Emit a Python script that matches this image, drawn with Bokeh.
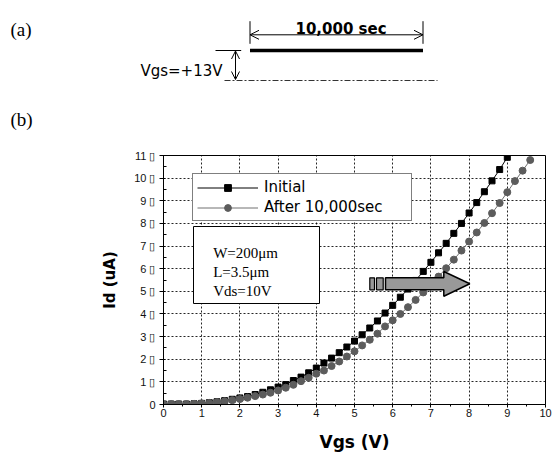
from bokeh.plotting import figure
from bokeh.models import (Range1d, Legend, LegendItem, Label, Arrow, OpenHead,
                          FixedTicker, BoxAnnotation)
from bokeh.layouts import column
from bokeh.embed import file_html
from bokeh.resources import INLINE

# ---------------- data ----------------
vgs_initial = [0.0, 0.2, 0.4, 0.6, 0.8, 1.0, 1.2, 1.4, 1.6, 1.8, 2.0, 2.2, 2.4, 2.6, 2.8,
               3.0, 3.2, 3.4, 3.6, 3.8, 4.0, 4.2, 4.4, 4.6, 4.8, 5.0, 5.2, 5.4, 5.6, 5.8,
               6.0, 6.2, 6.4, 6.6, 6.8, 7.0, 7.2, 7.4, 7.6, 7.8, 8.0, 8.2, 8.4, 8.6, 8.8, 9.0]
id_initial = [0.02, 0.02, 0.02, 0.02, 0.03, 0.05, 0.08, 0.12, 0.17, 0.23, 0.29, 0.35, 0.44,
              0.54, 0.65, 0.77, 0.88, 1.06, 1.21, 1.40, 1.61, 1.83, 2.05, 2.29, 2.54, 2.80,
              3.08, 3.38, 3.69, 4.04, 4.38, 4.74, 5.10, 5.48, 5.88, 6.28, 6.70, 7.12, 7.56,
              8.00, 8.46, 8.92, 9.40, 9.88, 10.38, 10.92]

vgs_after = [0.0, 0.2, 0.4, 0.6, 0.8, 1.0, 1.2, 1.4, 1.6, 1.8, 2.0, 2.2, 2.4, 2.6, 2.8,
             3.0, 3.2, 3.4, 3.6, 3.8, 4.0, 4.2, 4.4, 4.6, 4.8, 5.0, 5.2, 5.4, 5.6, 5.8,
             6.0, 6.2, 6.4, 6.6, 6.8, 7.0, 7.2, 7.4, 7.6, 7.8, 8.0, 8.2, 8.4, 8.6, 8.8,
             9.0, 9.2, 9.4, 9.6]
id_after = [0.02, 0.02, 0.02, 0.02, 0.03, 0.05, 0.07, 0.10, 0.14, 0.19, 0.24, 0.30, 0.37,
            0.44, 0.52, 0.62, 0.74, 0.87, 1.03, 1.18, 1.36, 1.50, 1.70, 1.90, 2.12, 2.35,
            2.61, 2.86, 3.13, 3.45, 3.72, 4.00, 4.30, 4.62, 4.95, 5.30, 5.65, 6.02, 6.40,
            6.80, 7.20, 7.60, 8.02, 8.45, 8.90, 9.38, 9.87, 10.33, 10.80]

x_ticks = [0, 1, 2, 3, 4, 5, 6, 7, 8, 9, 10]
y_ticks = [0, 1, 2, 3, 4, 5, 6, 7, 8, 9, 10, 11]
y_tick_labels = ["0", "1 \u25AF", "2 \u25AF", "3 \u25AF", "4 \u25AF", "5 \u25AF", "6 \u25AF",
                 "7 \u25AF", "8 \u25AF", "9 \u25AF", "10 \u25AF", "11 \u25AF"]
series_labels = ["Initial", "After 10,000sec"]
info_lines = ["W=200\u03bcm", "L=3.5\u03bcm", "Vds=10V"]

SANS = "Liberation Sans"
WIDE = "DejaVu Sans"
SERIF = "Liberation Serif"

# ---------------- (a) stress diagram (pixel-like coords) ----------------
top = figure(width=553, height=138, x_range=Range1d(0, 553), y_range=Range1d(138, 0),
             x_axis_type=None, y_axis_type=None, toolbar_location=None,
             output_backend="svg", min_border=0, min_border_left=0, min_border_right=0,
             min_border_top=0, min_border_bottom=0, frame_align=False)
top.grid.visible = False
top.outline_line_color = None

top.add_layout(Label(x=10, y=29, text="(a)", text_font=SERIF, text_font_size="19px",
                     text_baseline="alphabetic", text_color="black"))
top.add_layout(Label(x=10, y=119, text="(b)", text_font=SERIF, text_font_size="19px",
                     text_baseline="alphabetic", text_color="black"))
top.add_layout(Label(x=340.5, y=28.5, text="10,000 sec", text_font=WIDE,
                     text_font_size="15px", text_font_style="bold",
                     text_align="center", text_baseline="alphabetic", text_color="black"))
top.add_layout(Label(x=222, y=70.5, text="Vgs=+13V", text_font=WIDE, text_font_size="15px",
                     text_align="right", text_baseline="alphabetic", text_color="black"))

# dimension arrow for duration
top.add_layout(Arrow(start=OpenHead(size=9, line_width=1), end=OpenHead(size=9, line_width=1),
                     x_start=249.5, y_start=34.3, x_end=422.5, y_end=34.3, line_width=1,
                     line_color="black"))
top.segment(x0=[249.5, 422.5], y0=[20.7, 20.7], x1=[249.5, 422.5], y1=[43.3, 43.3],
            line_color="black", line_width=1)
# stress pulse
top.segment(x0=[249.5], y0=[50], x1=[422.5], y1=[50], line_color="black", line_width=3.5)
# amplitude marker
top.segment(x0=[215], y0=[50], x1=[240.7], y1=[50], line_color="black", line_width=1)
top.add_layout(Arrow(start=OpenHead(size=8, line_width=1), end=OpenHead(size=8, line_width=1),
                     x_start=235, y_start=50.5, x_end=235, y_end=79, line_width=1,
                     line_color="black"))
top.segment(x0=[224], y0=[80], x1=[437], y1=[80], line_color="#333333", line_width=1,
            line_dash="6 2 2 2")

# ---------------- (b) Id-Vgs chart ----------------
FX0, FX1, FY0, FY1 = 163.0, 545.0, 404.0, 155.0
p = figure(frame_width=382, frame_height=249, x_range=Range1d(0, 10), y_range=Range1d(0, 11),
           min_border_left=163, min_border_right=8, min_border_top=17,
           min_border_bottom=53, toolbar_location=None, output_backend="svg",
           frame_align=False)

def X(px):
    return (px - FX0) / (FX1 - FX0) * 10.0
def Y(py):
    return (FY0 - py) / (FY0 - FY1) * 11.0

p.outline_line_color = "black"
p.outline_line_width = 1
p.background_fill_color = "white"

p.xaxis.ticker = FixedTicker(ticks=x_ticks, minor_ticks=[t + 0.5 for t in x_ticks[:-1]])
p.yaxis.ticker = FixedTicker(ticks=y_ticks, minor_ticks=[t + 0.5 for t in y_ticks[:-1]])
p.yaxis.major_label_overrides = {t: lab for t, lab in zip(y_ticks, y_tick_labels)}

for ax in (p.xaxis[0], p.yaxis[0]):
    ax.axis_line_color = "black"
    ax.major_tick_line_color = "black"
    ax.minor_tick_line_color = "black"
    ax.major_label_text_font = SANS
    ax.major_label_text_font_size = "11px"
    ax.major_label_text_color = "#111111"
    ax.axis_label_text_font = WIDE
    ax.axis_label_text_font_style = "bold"
    ax.axis_label_text_color = "black"

p.xaxis.major_tick_out = 3
p.xaxis.major_tick_in = 0
p.xaxis.minor_tick_out = 2
p.xaxis.minor_tick_in = 0
p.xaxis.major_label_standoff = 1
p.xaxis.axis_label = "Vgs (V)"
p.xaxis.axis_label_text_font_size = "17px"
p.xaxis.axis_label_standoff = 12

p.yaxis.major_tick_out = 4
p.yaxis.major_tick_in = 2
p.yaxis.minor_tick_out = 0
p.yaxis.minor_tick_in = 3
p.yaxis.major_label_standoff = 4
p.yaxis.axis_label = "Id (uA)"
p.yaxis.axis_label_text_font_size = "15px"
p.yaxis.axis_label_standoff = 12

for g in (p.xgrid[0], p.ygrid[0]):
    g.grid_line_color = "black"
    g.grid_line_dash = "2 2"
    g.grid_line_width = 1
    g.grid_line_alpha = 0.85

l1 = p.line(vgs_initial, id_initial, line_color="black", line_width=1)
s1 = p.scatter(vgs_initial, id_initial, marker="square", size=6, fill_color="black",
               line_color="black")
l2 = p.line(vgs_after, id_after, line_color="#707070", line_width=1)
s2 = p.scatter(vgs_after, id_after, marker="circle", size=7, fill_color="#5c5c5c",
               line_color="#5c5c5c")

legend = Legend(items=[LegendItem(label=series_labels[0], renderers=[l1, s1]),
                       LegendItem(label=series_labels[1], renderers=[l2, s2])],
                location=(29, 183), padding=4, spacing=2, margin=0,
                glyph_width=61, glyph_height=17, label_height=17, label_width=143,
                label_standoff=6, label_text_font=WIDE, label_text_font_size="15px",
                label_text_color="black", border_line_color="black", border_line_width=1,
                background_fill_color="white", background_fill_alpha=1.0)
p.add_layout(legend)

# parameter box
p.add_layout(BoxAnnotation(left=X(193), right=X(319), top=Y(226), bottom=Y(303),
                           fill_color="white", fill_alpha=1.0, line_color="black",
                           line_width=1, line_alpha=1.0))
for txt, by in zip(info_lines, [252.7, 271.7, 290.3]):
    p.add_layout(Label(x=X(212.7), y=Y(by), text=txt, text_font=SERIF,
                       text_font_size="15px", text_baseline="alphabetic",
                       text_color="black"))

# shift arrow
arrow_px = [(385, 277.3), (443.3, 277.3), (443.3, 271.0), (469.3, 283.3),
            (443.3, 295.7), (443.3, 289.3), (385, 289.3)]
p.patch([X(a) for a, _ in arrow_px], [Y(b) for _, b in arrow_px],
        fill_color="#999999", line_color="black", line_width=1.5)
p.quad(left=[X(369.3), X(376.0)], right=[X(374.0), X(382.7)],
       top=[Y(277.3), Y(277.3)], bottom=[Y(289.3), Y(289.3)],
       fill_color="#999999", line_color="black", line_width=1.2)

layout = column(top, p)
open("out.html", "w").write(file_html(layout, INLINE))
